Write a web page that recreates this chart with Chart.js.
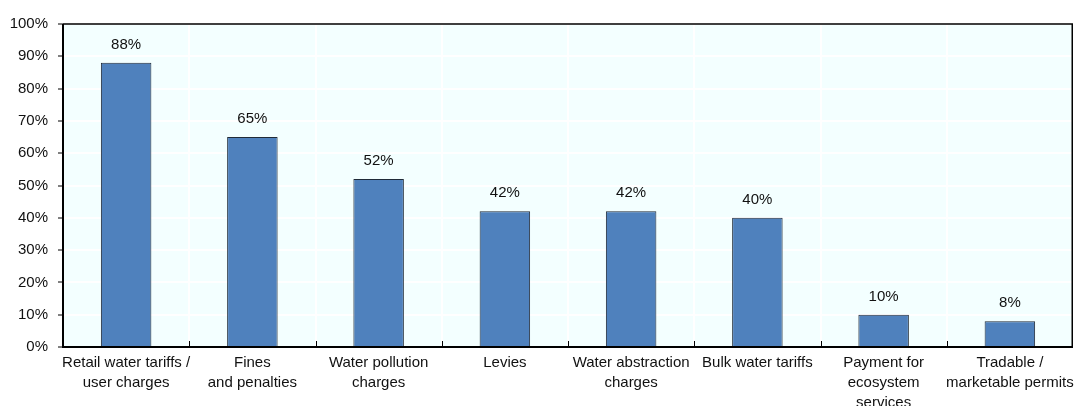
<!DOCTYPE html>
<html>
<head>
<meta charset="utf-8">
<script src="https://cdn.jsdelivr.net/npm/chart.js@4/dist/chart.umd.min.js"></script>
<style>
  html, body { margin: 0; padding: 0; background: #ffffff; }
  #wrap { width: 1074px; height: 406px; position: relative; }
</style>
</head>
<body>
<div id="wrap"><canvas id="c" width="1074" height="406"></canvas></div>
<script>
// Economic instruments in use (share of respondents)
const categories = [
  ["Retail water tariffs /", "user charges"],
  ["Fines", "and penalties"],
  ["Water pollution", "charges"],
  "Levies",
  ["Water abstraction", "charges"],
  "Bulk water tariffs",
  ["Payment for", "ecosystem", "services"],
  ["Tradable /", "marketable permits"]
];
const shares = [88, 65, 52, 42, 42, 40, 10, 8];
const yTicks = [0, 10, 20, 30, 40, 50, 60, 70, 80, 90, 100];

const FONT = '"Liberation Sans Narrow", "Arial Narrow", "Liberation Sans", Arial, sans-serif';
const FSIZE = 15;
const TEXT = '#111111';

// Plot background, frame, inward category ticks and value labels
const decor = {
  id: 'decor',
  beforeDraw(chart) {
    const { ctx, chartArea: a } = chart;
    ctx.save();
    ctx.fillStyle = '#F3FFFF';
    ctx.fillRect(a.left, a.top, a.right - a.left, a.bottom - a.top);
    ctx.restore();
  },
  afterDatasetsDraw(chart) {
    const { ctx, chartArea: a } = chart;
    const x = chart.scales.x;
    ctx.save();
    // frame
    ctx.strokeStyle = '#000';
    ctx.lineWidth = 1.5;
    ctx.beginPath();
    ctx.moveTo(a.left, a.top);
    ctx.lineTo(a.right - 0.75, a.top);
    ctx.lineTo(a.right - 0.75, a.bottom);
    ctx.stroke();
    ctx.lineWidth = 2;
    ctx.beginPath();
    ctx.moveTo(a.left, a.top);
    ctx.lineTo(a.left, a.bottom);
    ctx.lineTo(a.right, a.bottom);
    ctx.stroke();
    // category boundary ticks, pointing inward
    ctx.lineWidth = 1;
    const n = categories.length;
    for (let i = 1; i < n; i++) {
      const bx = Math.round((x.getPixelForValue(i - 1) + x.getPixelForValue(i)) / 2) + 0.5;
      ctx.beginPath();
      ctx.moveTo(bx, a.bottom);
      ctx.lineTo(bx, a.bottom - 6);
      ctx.stroke();
    }
    // value labels
    ctx.fillStyle = TEXT;
    ctx.font = FSIZE + 'px ' + FONT;
    ctx.textAlign = 'center';
    ctx.textBaseline = 'alphabetic';
    const meta = chart.getDatasetMeta(0);
    meta.data.forEach((bar, i) => {
      ctx.fillText(shares[i] + '%', bar.x, bar.y - 14);
    });
    ctx.restore();
  }
};

new Chart(document.getElementById('c'), {
  type: 'bar',
  data: {
    labels: categories,
    datasets: [{
      data: shares,
      backgroundColor: '#4F81BD',
      borderColor: '#1F2A38',
      borderWidth: 1,
      borderSkipped: 'bottom',
      barPercentage: 0.4,
      categoryPercentage: 1.0
    }]
  },
  options: {
    responsive: false,
    animation: false,
    devicePixelRatio: 1,
    layout: { padding: { top: 24, right: 1, left: 0, bottom: 0 } },
    plugins: {
      legend: { display: false },
      tooltip: { enabled: false }
    },
    scales: {
      x: {
        offset: true,
        grid: {
          offset: true,
          color: '#FFFFFF',
          lineWidth: 2,
          drawTicks: false
        },
        border: { display: false },
        ticks: {
          color: TEXT,
          font: { family: FONT, size: FSIZE, lineHeight: 1.32 },
          padding: 6,
          maxRotation: 0,
          autoSkip: false
        },
        afterFit(scale) {
          scale.height = 59;
          scale.paddingLeft = 0;
          scale.paddingRight = 0;
        }
      },
      y: {
        min: 0,
        max: 100,
        afterBuildTicks(scale) { scale.ticks = yTicks.map(v => ({ value: v })); },
        grid: {
          color: '#FFFFFF',
          lineWidth: 2,
          tickColor: '#000000',
          tickLength: 5,
          tickWidth: 1
        },
        border: { display: false },
        ticks: {
          color: TEXT,
          font: { family: FONT, size: FSIZE },
          padding: 10,
          callback: v => v + '%'
        },
        afterFit(scale) {
          scale.width = 63;
          scale.paddingTop = 0;
          scale.paddingBottom = 0;
        }
      }
    }
  },
  plugins: [decor]
});
</script>
</body>
</html>
